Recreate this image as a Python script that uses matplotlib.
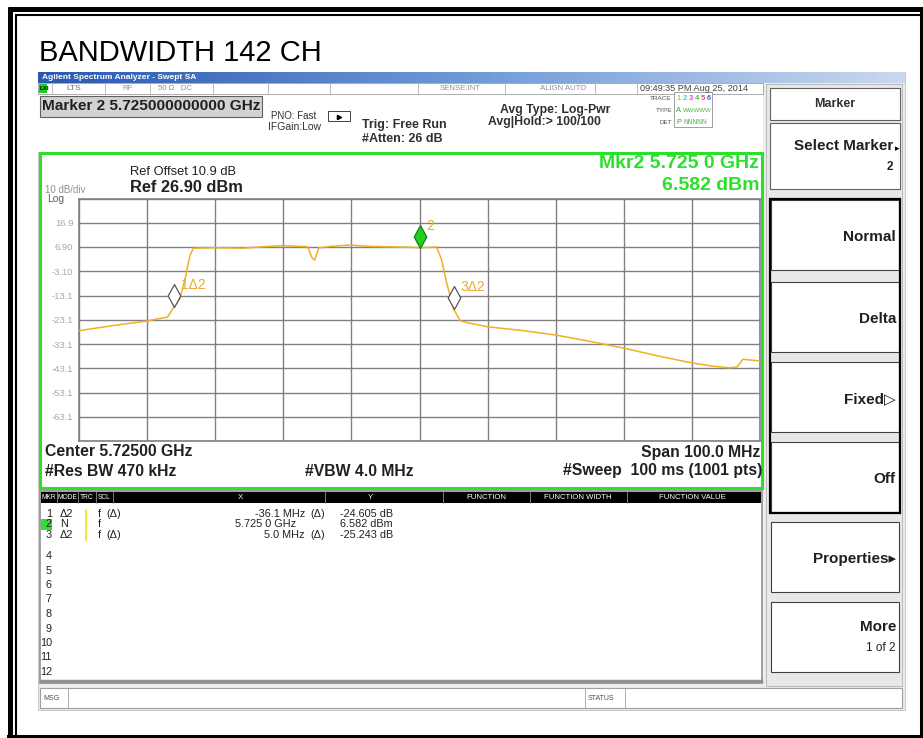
import numpy as np
import matplotlib.pyplot as plt
from matplotlib.patches import Rectangle
from matplotlib.colors import LinearSegmentedColormap

plt.rcParams['font.family'] = ['Liberation Sans', 'DejaVu Sans']

# trace (MHz, dBm)
freq_mhz = [5675, 5680, 5685, 5688.0, 5688.9, 5689.8, 5690.6, 5691.3, 5691.8,
            5695, 5699, 5702, 5705, 5708.6, 5709.2, 5709.6, 5710.2, 5712,
            5714.8, 5717.3, 5720, 5723.6, 5725, 5727.5, 5728.2, 5729.0,
            5730.0, 5731.0, 5732, 5735, 5740, 5745, 5750, 5755, 5760, 5765,
            5768, 5770.5, 5771.6, 5772.5, 5775]
level_dbm = [-27.6, -25.5, -23.6, -22.0, -18.0, -14.5, -6.0, 3.5, 6.4,
             6.6, 6.4, 7.0, 7.5, 7.0, 2.5, 1.5, 6.5, 7.2,
             7.7, 7.2, 7.0, 6.8, 6.6, 6.9, 2.0, -8.0,
             -18.7, -23.5, -24.3, -26.0, -27.5, -29.4, -32.0, -34.8, -38.0, -40.9,
             -42.2, -42.9, -42.6, -39.4, -40.1]

center_mhz = 5725.0
span_mhz = 100.0
ref_level = 26.9
db_per_div = 10
ytick_labels = ['', '16.9', '6.90', '-3.10', '-13.1', '-23.1', '-33.1',
                '-43.1', '-53.1', '-63.1', '']

# marker table
mkr_ids = ['1', '2', '3']
mkr_modes = ['Δ2', 'N', 'Δ2']
mkr_freq = [5688.9, 5725.0, 5730.0]
mkr_level = [-18.023, 6.582, -18.661]
mkr_tags = ['1Δ2', '2', '3Δ2']
mkr_x_text = ['-36.1 MHz', '5.725 0 GHz', '5.0 MHz']
mkr_y_text = ['-24.605 dB', '6.582 dBm', '-25.243 dB']
mkr_delta = [True, False, True]

softkeys = ['Normal', 'Delta', 'Fixed\u25b7', 'Off', 'Properties\u25b8', 'More']

W, H = 923, 738
fig = plt.figure(figsize=(W / 100, H / 100), dpi=100)
bg = fig.add_axes([0, 0, 1, 1])
bg.axis('off')

GREEN = '#2be02b'
ORANGE = '#f0a828'
INK = '#202020'


def box(x, y, w, h, fc='white', ec='#808080', lw=0.8, z=1):
    bg.add_patch(Rectangle((x, y), w, h, facecolor=fc, edgecolor=ec, lw=lw, zorder=z))


def txt(x, y, s, size=8, ha='left', weight='normal', color='black', z=5, **kw):
    bg.text(x, y, s, fontsize=size, ha=ha, va='center', fontweight=weight,
            color=color, zorder=z, **kw)


# outer frame
bg.plot([8, W], [9, 9], color='black', lw=3.6, solid_capstyle='butt')
bg.plot([16, W], [14.5, 14.5], color='black', lw=1.5, solid_capstyle='butt')
bg.plot([10, 10], [7, H], color='black', lw=3.6, solid_capstyle='butt')
bg.plot([16, 16], [14, H], color='black', lw=1.5, solid_capstyle='butt')
bg.plot([920.5, 920.5], [9, H], color='black', lw=2.2)
bg.plot([8, W], [736, 736], color='black', lw=2.2)

txt(39, 53, 'BANDWIDTH 142 CH', size=21)

# screenshot window
box(38, 72, 867, 638, fc='#ececec', ec='#c0c0c0', lw=0.6, z=0)
grad = LinearSegmentedColormap.from_list('bar', ['#2a58b0', '#6f9ad8', '#c8d8ee'])
bg.imshow(np.linspace(0, 1, 200)[None, :], extent=[38, 905, 83, 72], cmap=grad,
          aspect='auto', zorder=1)
txt(42, 77.5, 'Agilent Spectrum Analyzer - Swept SA', size=6, weight='bold', color='white')

# status row
box(38, 83, 725, 11, fc='white', ec='#a0a0a0', lw=0.6)
box(39, 84, 8, 9, fc='#22cc22', ec='none')
txt(40, 88.5, 'LXI', size=4.5, weight='bold')
for sx in [52, 105, 150, 213, 268, 330, 418, 505, 595, 637]:
    bg.plot([sx, sx], [83, 94], color='#b0b0b0', lw=0.6)
txt(66, 88.5, 'LTS', size=6, color='#707070')
txt(122, 88.5, 'RF', size=5.6, color='#909090')
txt(158, 88.5, '50 \u03a9   DC', size=5.6, color='#909090')
txt(440, 88.5, 'SENSE:INT', size=5.6, color='#909090')
txt(540, 88.5, 'ALIGN AUTO', size=5.6, color='#909090')
txt(640, 88.5, '09:49:35 PM Aug 25, 2014', size=6.6, color='#404040')

# settings area
box(38, 94, 725, 58, fc='white', ec='none', z=0.5)
box(40, 96, 222, 21, fc='#d2d2d2', ec='#606060', lw=0.8)
txt(42, 106.5, 'Marker 2 5.725000000000 GHz', size=11.1, weight='bold', color=INK)
txt(271, 116, 'PNO: Fast', size=7, color='#303030')
box(328, 111, 22, 10, fc='white', ec='#404040', lw=0.7)
bg.plot([339], [117], marker='>', ms=3, color='black')
txt(268, 127.5, 'IFGain:Low', size=7.5, color='#303030')
txt(362, 125, 'Trig: Free Run', size=9, weight='bold', color='#303030')
txt(362, 139, '#Atten: 26 dB', size=9, weight='bold', color='#303030')
txt(500, 110, 'Avg Type: Log-Pwr', size=8.8, weight='bold', color='#303030')
txt(488, 122, 'Avg|Hold:> 100/100', size=8.8, weight='bold', color='#303030')
txt(672, 98, 'TRACE', size=4.6, ha='right', color='#505050')
txt(672, 110, 'TYPE', size=4.6, ha='right', color='#505050')
txt(672, 122, 'DET', size=4.6, ha='right', color='#505050')
box(674, 92, 38, 35, fc='white', ec='#909090', lw=0.6)
trace_colors = ['#e8c800', '#40c8e0', '#e040e0', '#40c040', '#e84080', '#4060e0']
for i, c in enumerate(trace_colors):
    txt(677 + i * 6, 98, str(i + 1), size=5.4, color=c, weight='bold')
txt(676, 110, 'A', size=5.4, color='#30a030')
txt(683, 110, 'WWWWW', size=4.4, color='#50b050')
txt(676, 122, 'P', size=5.4, color='#30a030')
txt(683, 122, 'NNNNN', size=4.8, color='#50b050')

# main display box
box(40, 153, 722, 335, fc='white', ec=GREEN, lw=2.2, z=1)
txt(130, 172, 'Ref Offset 10.9 dB', size=9.3, color=INK)
txt(130, 188, 'Ref 26.90 dBm', size=11.8, weight='bold', color=INK)
txt(45, 190, '10 dB/div', size=7, color='#909090')
txt(47, 199, 'Log', size=7.5, color='#606060')
txt(759, 163, 'Mkr2 5.725 0 GHz', size=14, ha='right', weight='bold', color=GREEN)
txt(759, 185, '6.582 dBm', size=14, ha='right', weight='bold', color=GREEN)
txt(45, 452, 'Center 5.72500 GHz', size=11.3, weight='bold', color=INK)
txt(760, 452, 'Span 100.0 MHz', size=11.3, ha='right', weight='bold', color=INK)
txt(45, 471, '#Res BW 470 kHz', size=11.3, weight='bold', color=INK)
txt(305, 471, '#VBW 4.0 MHz', size=11.3, weight='bold', color=INK)
txt(762, 471, '#Sweep  100 ms (1001 pts)', size=11.3, ha='right', weight='bold', color=INK)

# marker table
box(40, 491, 722, 192, fc='white', ec='#909090', lw=1.2)
bg.plot([41, 761], [681, 681], color='#909090', lw=2.5)
box(41, 492, 720, 11, fc='black', ec='none', z=2)
for sx in [57, 78, 96, 113, 325, 443, 530, 627]:
    bg.plot([sx, sx], [492, 503], color='#909090', lw=0.6, zorder=3)
for lab, lx, sz in [('MKR', 49, 4.8), ('MODE', 67.5, 4.8), ('TRC', 87, 4.8),
                    ('SCL', 104.5, 4.8), ('X', 240, 5.6), ('Y', 370, 5.6),
                    ('FUNCTION', 486, 5.6), ('FUNCTION WIDTH', 578, 5.6),
                    ('FUNCTION VALUE', 692, 5.6)]:
    txt(lx, 497.5, lab, size=sz, ha='center', color='white')
row_y = [514, 524, 535, 556, 570.5, 585, 599.5, 614, 628.5, 643, 657.5, 672]
box(41, 519, 11, 10.5, fc='#33dd33', ec='none', z=2)
for i, ry in enumerate(row_y):
    txt(52, ry, str(i + 1), size=7.8, ha='right', color=INK)
for i in range(len(mkr_ids)):
    ry = row_y[i]
    txt(60, ry, mkr_modes[i], size=7.8, color=INK)
    bg.plot([86, 86], [ry - 4.5, ry + 4.5], color='#f0e000', lw=1.2)
    txt(98, ry, 'f', size=7.8, color=INK)
    if mkr_delta[i]:
        txt(106, ry, '(\u0394)', size=7.8, color=INK)
        txt(310, ry, '(\u0394)', size=7.8, color=INK)
    txt(305 if mkr_delta[i] else 296, ry, mkr_x_text[i], size=7.8, ha='right', color=INK)
    txt(393, ry, mkr_y_text[i], size=7.8, ha='right', color=INK)

# bottom status bar
box(40, 688, 862, 20, fc='white', ec='#a0a0a0', lw=0.8)
bg.plot([68, 68], [688, 708], color='#a0a0a0', lw=0.6)
bg.plot([585, 585], [688, 708], color='#a0a0a0', lw=0.6)
bg.plot([625, 625], [688, 708], color='#a0a0a0', lw=0.6)
txt(43, 698, 'MSG', size=5, color='#505050')
txt(588, 698, 'STATUS', size=5, color='#505050')

# softkey panel
box(766, 84, 136, 602, fc='#e8e8e8', ec='#b0b0b0', lw=0.6, z=0.5)
box(770, 88, 130, 32, fc='white', ec='#606060', lw=0.8)
txt(835, 104, 'Marker', size=9, ha='center', weight='bold', color='#303030')
box(770, 123, 130, 66, fc='white', ec='#606060', lw=0.8)
txt(893, 146, 'Select Marker', size=11, ha='right', weight='bold', color=INK)
txt(897, 149, '\u25b8', size=6.5, ha='center', color='black')
txt(893, 167, '2', size=8.5, ha='right', weight='bold', color=INK)
box(770, 199, 130, 314, fc='none', ec='black', lw=1.6, z=3)
key_top = [200, 282, 362, 442, 522, 602]
for k, top in enumerate(key_top):
    box(771, top, 128, 70, fc='white', ec='#404040', lw=0.8)
    ty = top + 37 if k < 5 else top + 25
    txt(896, ty, softkeys[k], size=11, ha='right', weight='bold', color=INK)
txt(896, 648, '1 of 2', size=8.5, ha='right', color=INK)

bg.set_xlim(0, W)
bg.set_ylim(H, 0)

# spectrum plot
x0, x1, y0, y1 = 79, 760, 198.5, 441
ax = fig.add_axes([x0 / W, 1 - y1 / H, (x1 - x0) / W, (y1 - y0) / H])
ax.set_facecolor('white')
f_lo, f_hi = center_mhz - span_mhz / 2, center_mhz + span_mhz / 2
y_lo = ref_level - 10 * db_per_div
ax.set_xlim(f_lo, f_hi)
ax.set_ylim(y_lo, ref_level)
ax.set_xticks(np.linspace(f_lo, f_hi, 11))
ax.set_yticks(np.linspace(y_lo, ref_level, 11))
ax.set_yticklabels(ytick_labels[::-1])
ax.set_xticklabels([])
ax.tick_params(length=0, labelsize=6.8, labelcolor='#a8a8a8', pad=4)
ax.grid(True, color='#808080', lw=1.0)
for s in ax.spines.values():
    s.set_color('#808080')
    s.set_linewidth(1.2)
ax.plot(freq_mhz, level_dbm, color='#f0b020', lw=1.1, zorder=3)

diamond = [(0, 0), (0.55, 1), (0, 2), (-0.55, 1), (0, 0)]
for i in range(len(mkr_ids)):
    face = '#22cc22' if mkr_ids[i] == '2' else 'white'
    edge = '#158015' if mkr_ids[i] == '2' else '#555555'
    ax.plot(mkr_freq[i], mkr_level[i], marker=diamond, ms=33, mfc=face, mec=edge,
            mew=0.9, zorder=5, clip_on=False)
    ax.annotate(mkr_tags[i], (mkr_freq[i], mkr_level[i]), xytext=(5, 13),
                textcoords='offset points', fontsize=10, color=ORANGE, zorder=6)

fig.savefig('out.png', dpi=100)
